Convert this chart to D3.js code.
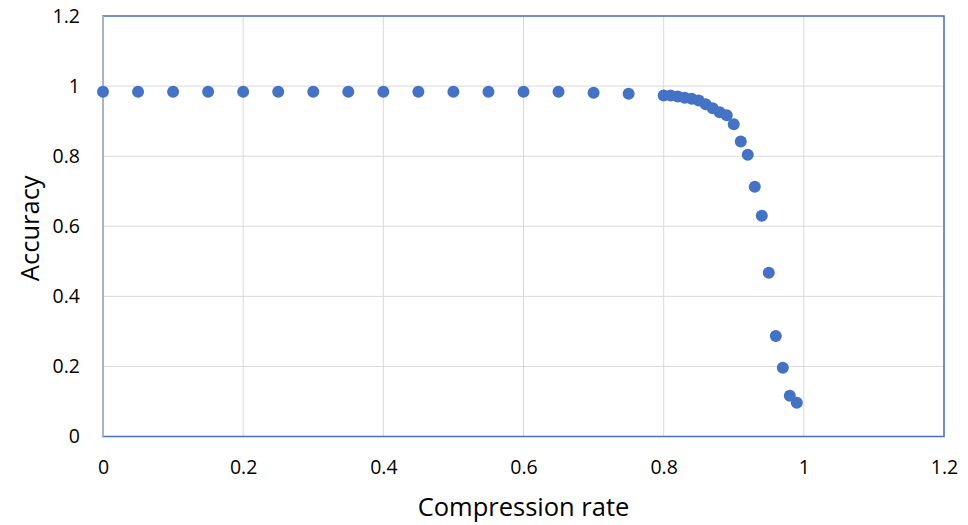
<!DOCTYPE html>
<html><head><meta charset="utf-8">
<script src="https://cdn.jsdelivr.net/npm/d3@7"></script>
<style>body{margin:0;background:#fff}svg{display:block}text{font-family:"Open Sans",Lato,sans-serif}</style>
</head><body><svg id="c" width="968" height="525"></svg>
<script>
const compressionRate = [0,0.05,0.1,0.15,0.2,0.25,0.3,0.35,0.4,0.45,0.5,0.55,0.6,0.65,0.7,0.75,
  0.8,0.81,0.82,0.83,0.84,0.85,0.86,0.87,0.88,0.89,0.9,0.91,0.92,0.93,0.94,0.95,0.96,0.97,0.98,0.99];
const accuracy = [0.984,0.984,0.984,0.984,0.984,0.984,0.984,0.984,0.984,0.984,0.984,0.984,0.984,0.984,0.981,0.978,
  0.973,0.973,0.970,0.967,0.964,0.959,0.948,0.937,0.925,0.917,0.891,0.842,0.804,0.713,0.630,0.467,0.287,0.196,0.116,0.096];
const xTicks = [0,0.2,0.4,0.6,0.8,1,1.2];
const yTicks = [0,0.2,0.4,0.6,0.8,1,1.2];

const svg = d3.select("#c");
const L=103,R=944,T=16,B=436.5;
const x = d3.scaleLinear().domain([0,1.2]).range([L,R]);
const y = d3.scaleLinear().domain([0,1.2]).range([B,T]);

// gridlines
svg.append("g").selectAll("line").data(yTicks).join("line")
  .attr("x1",L).attr("x2",R).attr("y1",d=>y(d)).attr("y2",d=>y(d))
  .attr("stroke","#d9d9d9").attr("stroke-width",1);
svg.append("g").selectAll("line").data(xTicks).join("line")
  .attr("y1",T).attr("y2",B).attr("x1",d=>x(d)).attr("x2",d=>x(d))
  .attr("stroke","#d9d9d9").attr("stroke-width",1);

// plot border
svg.append("rect").attr("x",L).attr("y",T).attr("width",R-L).attr("height",B-T)
  .attr("fill","none").attr("stroke","#4472c4").attr("stroke-width",1.5);
// left axis line
svg.append("line").attr("x1",L).attr("x2",L).attr("y1",T).attr("y2",B)
  .attr("stroke","#bfbfbf").attr("stroke-width",1.5);

// axes (labels only)
const fmt = d=>String(d);
const xAxis = svg.append("g").attr("transform",`translate(0,${B})`)
  .call(d3.axisBottom(x).tickValues(xTicks).tickFormat(fmt).tickSize(0).tickPadding(24));
const yAxis = svg.append("g").attr("transform",`translate(${L},0)`)
  .call(d3.axisLeft(y).tickValues(yTicks).tickFormat(fmt).tickSize(0).tickPadding(23));
[xAxis,yAxis].forEach(g=>{
  g.select(".domain").remove();
  g.selectAll("text").attr("font-family",'"Open Sans",Lato,sans-serif').attr("font-size",19.5).attr("fill","#000");
});

// points
svg.append("g").selectAll("circle").data(compressionRate).join("circle")
  .attr("cx",d=>x(d)).attr("cy",(d,i)=>y(accuracy[i])).attr("r",6)
  .attr("fill","#4472c4");

// titles
svg.append("text").attr("x",(L+R)/2).attr("y",516).attr("text-anchor","middle")
  .attr("font-size",25.5).attr("fill","#000").text("Compression rate");
svg.append("text").attr("transform",`translate(39,${(T+B)/2 + 2}) rotate(-90)`).attr("text-anchor","middle")
  .attr("font-size",25.5).attr("fill","#000").text("Accuracy");
</script></body></html>
